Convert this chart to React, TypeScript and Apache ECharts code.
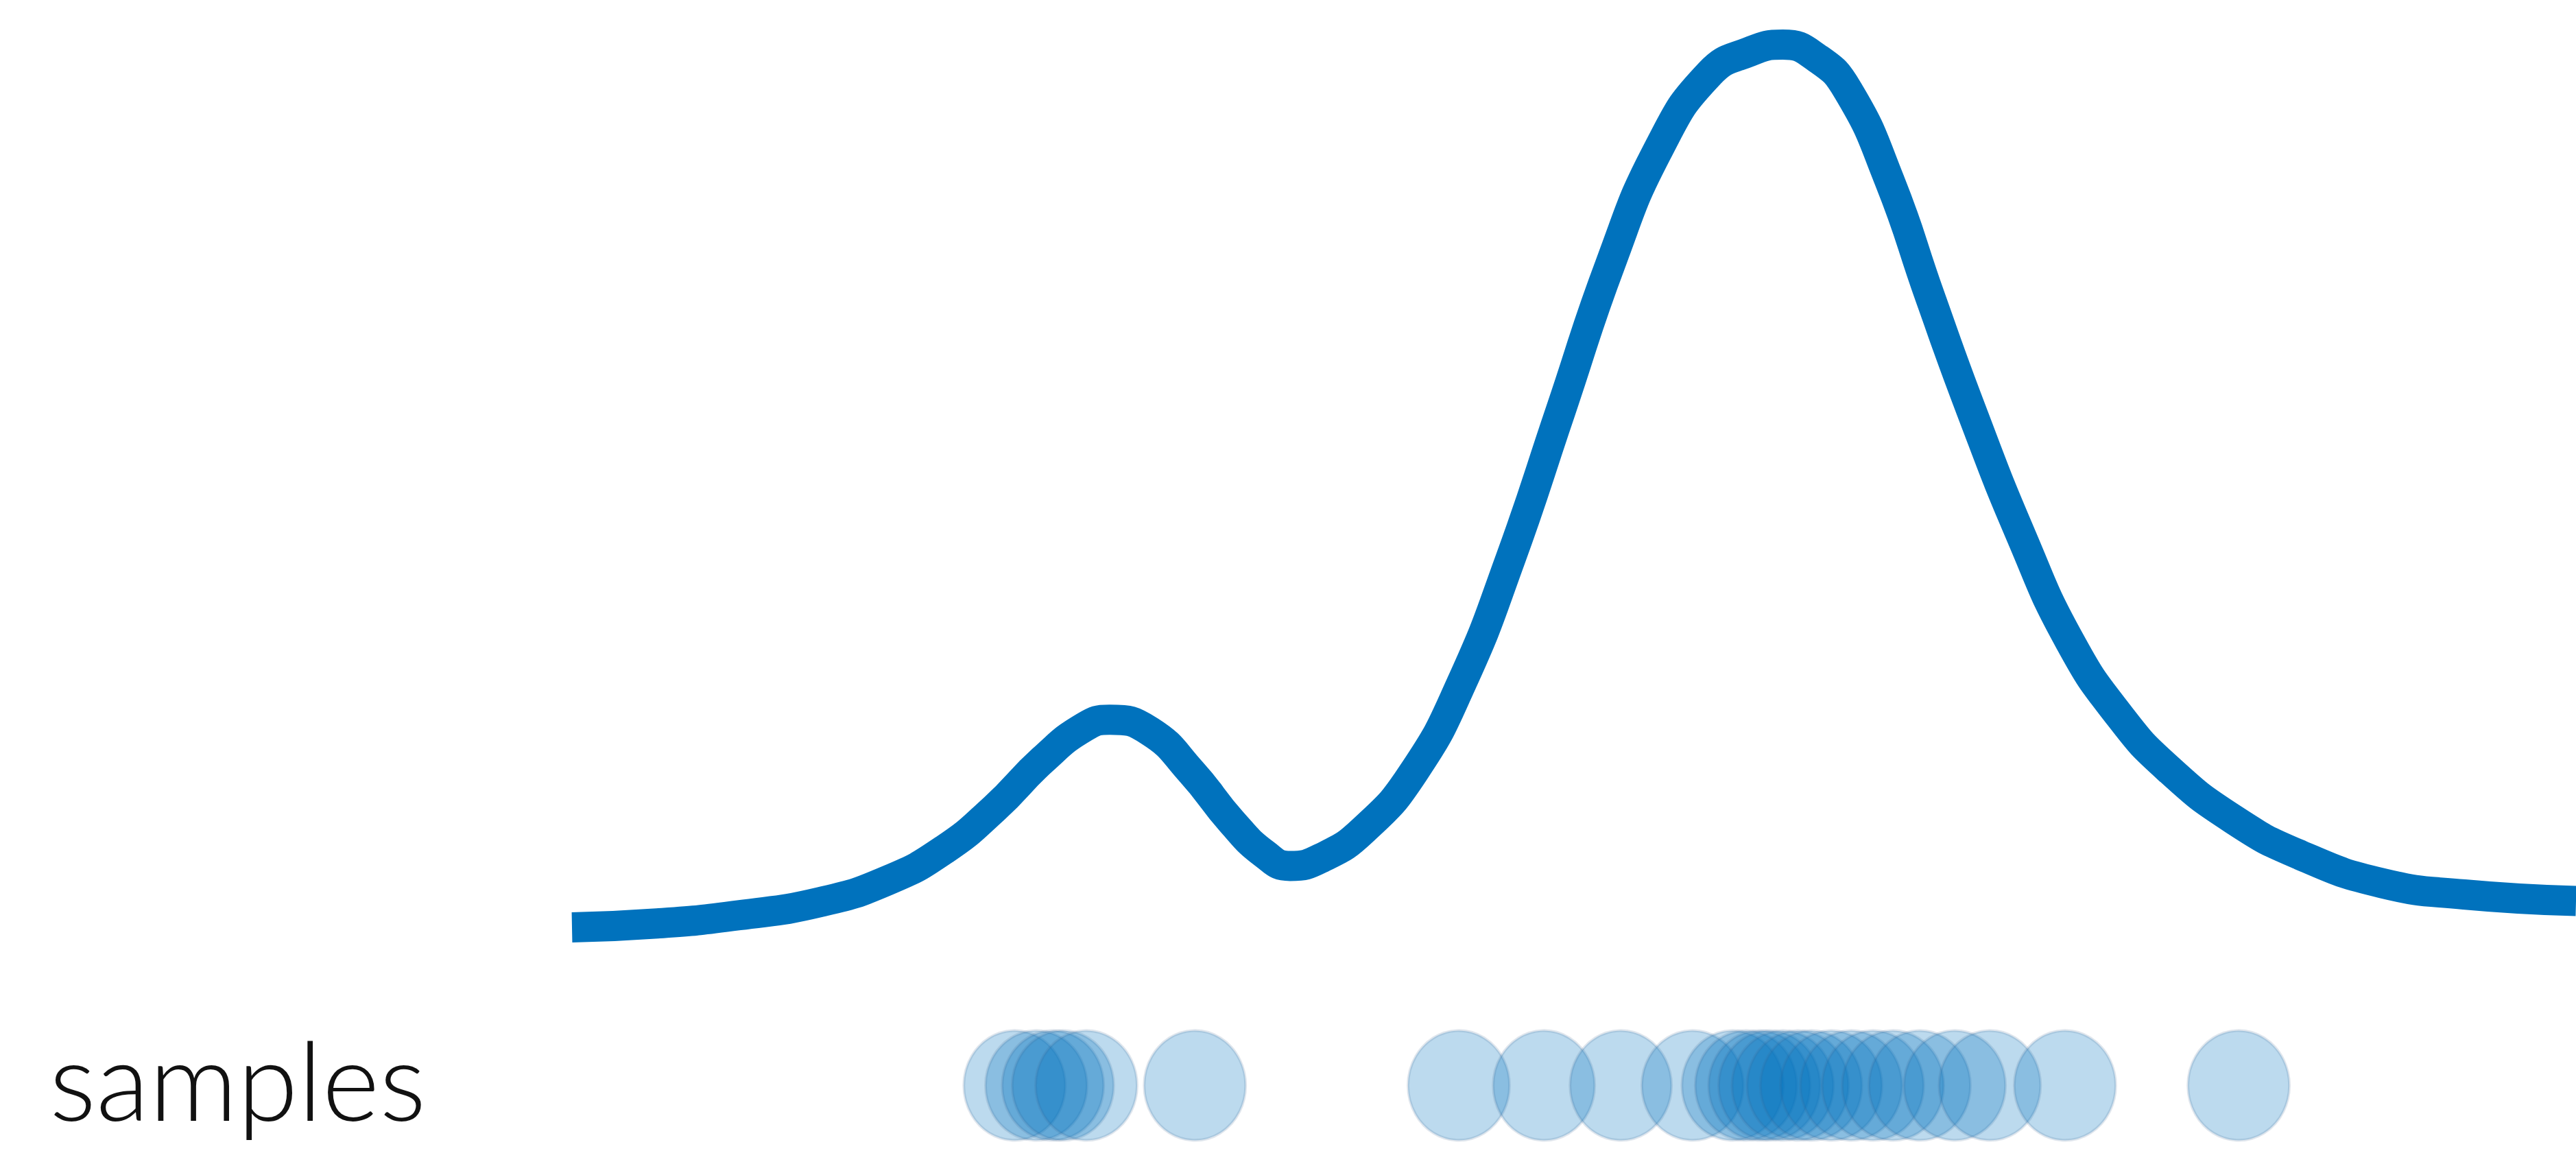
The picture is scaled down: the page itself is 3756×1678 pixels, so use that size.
import React, { useEffect, useRef } from "react";
import * as echarts from "echarts";

// density curve (x, density)
const curveX = [0.0, 0.51, 1.0, 1.49, 1.89, 2.23, 2.53, 2.82, 3.07, 3.22, 3.46, 3.71, 3.95, 4.15, 4.3, 4.49, 4.74, 5.04, 5.33, 5.62, 5.92, 6.22, 6.51, 6.81, 7.05, 7.25, 7.45, 7.64, 7.89, 8.13, 8.38, 8.68, 8.97, 9.27, 9.56, 9.95, 10.35, 10.84, 11.33, 12.0];
const curveY = [0.0194, 0.0215, 0.0259, 0.033, 0.0445, 0.061, 0.083, 0.109, 0.1265, 0.1303, 0.1242, 0.1023, 0.0759, 0.0584, 0.0522, 0.0566, 0.0715, 0.1023, 0.1505, 0.2163, 0.2953, 0.3742, 0.4357, 0.4752, 0.487, 0.4908, 0.484, 0.4664, 0.4181, 0.3567, 0.2953, 0.228, 0.172, 0.132, 0.104, 0.077, 0.058, 0.043, 0.037, 0.0335];

// sample positions shown as translucent dots
const sampleX = [2.65, 2.78, 2.88, 2.94, 3.08, 3.73, 5.31, 5.82, 6.28, 6.71, 6.95, 7.03, 7.11, 7.17, 7.25, 7.34, 7.42, 7.54, 7.66, 7.79, 7.91, 8.07, 8.28, 8.49, 8.94, 9.98];
const SAMPLE_ROW = -0.065;
const ROW_LABEL = "samples";

export default function App() {
  const ref = useRef<HTMLDivElement>(null);
  useEffect(() => {
    if (!ref.current) return;
    const chart = echarts.init(ref.current, undefined, { renderer: "svg" });
    const curve = curveX.map((x, i) => [x, curveY[i]]);
    const samples = sampleX.map((x) => [x, SAMPLE_ROW]);
    chart.setOption({
      animation: false,
      backgroundColor: "#ffffff",
      grid: { left: 834, right: 0, top: 40, bottom: 0 },
      xAxis: { type: "value", min: 0, max: 12, show: false },
      yAxis: { type: "value", min: -0.1, max: 0.5, show: false },
      graphic: [
        {
          type: "text",
          left: 72,
          top: 1492,
          style: {
            text: ROW_LABEL,
            font: "300 160px Lato, 'Open Sans', sans-serif",
            fill: "#111111",
          },
        },
      ],
      series: [
        {
          type: "scatter",
          data: samples,
          symbol: "circle",
          symbolSize: [148, 160],
          clip: false,
          itemStyle: {
            color: "rgba(0,114,189,0.33)",
            borderColor: "rgba(60,100,140,0.2)",
            borderWidth: 4,
          },
          z: 2,
        },
        {
          type: "line",
          data: curve,
          smooth: 0.5,
          showSymbol: false,
          clip: false,
          lineStyle: { color: "#0072BD", width: 44, cap: "butt" },
          z: 3,
        },
      ],
    });
    return () => chart.dispose();
  }, []);
  return (
    <div
      ref={ref}
      style={{ position: "fixed", left: 0, top: 0, width: 3756, height: 1678, background: "#fff" }}
    />
  );
}
